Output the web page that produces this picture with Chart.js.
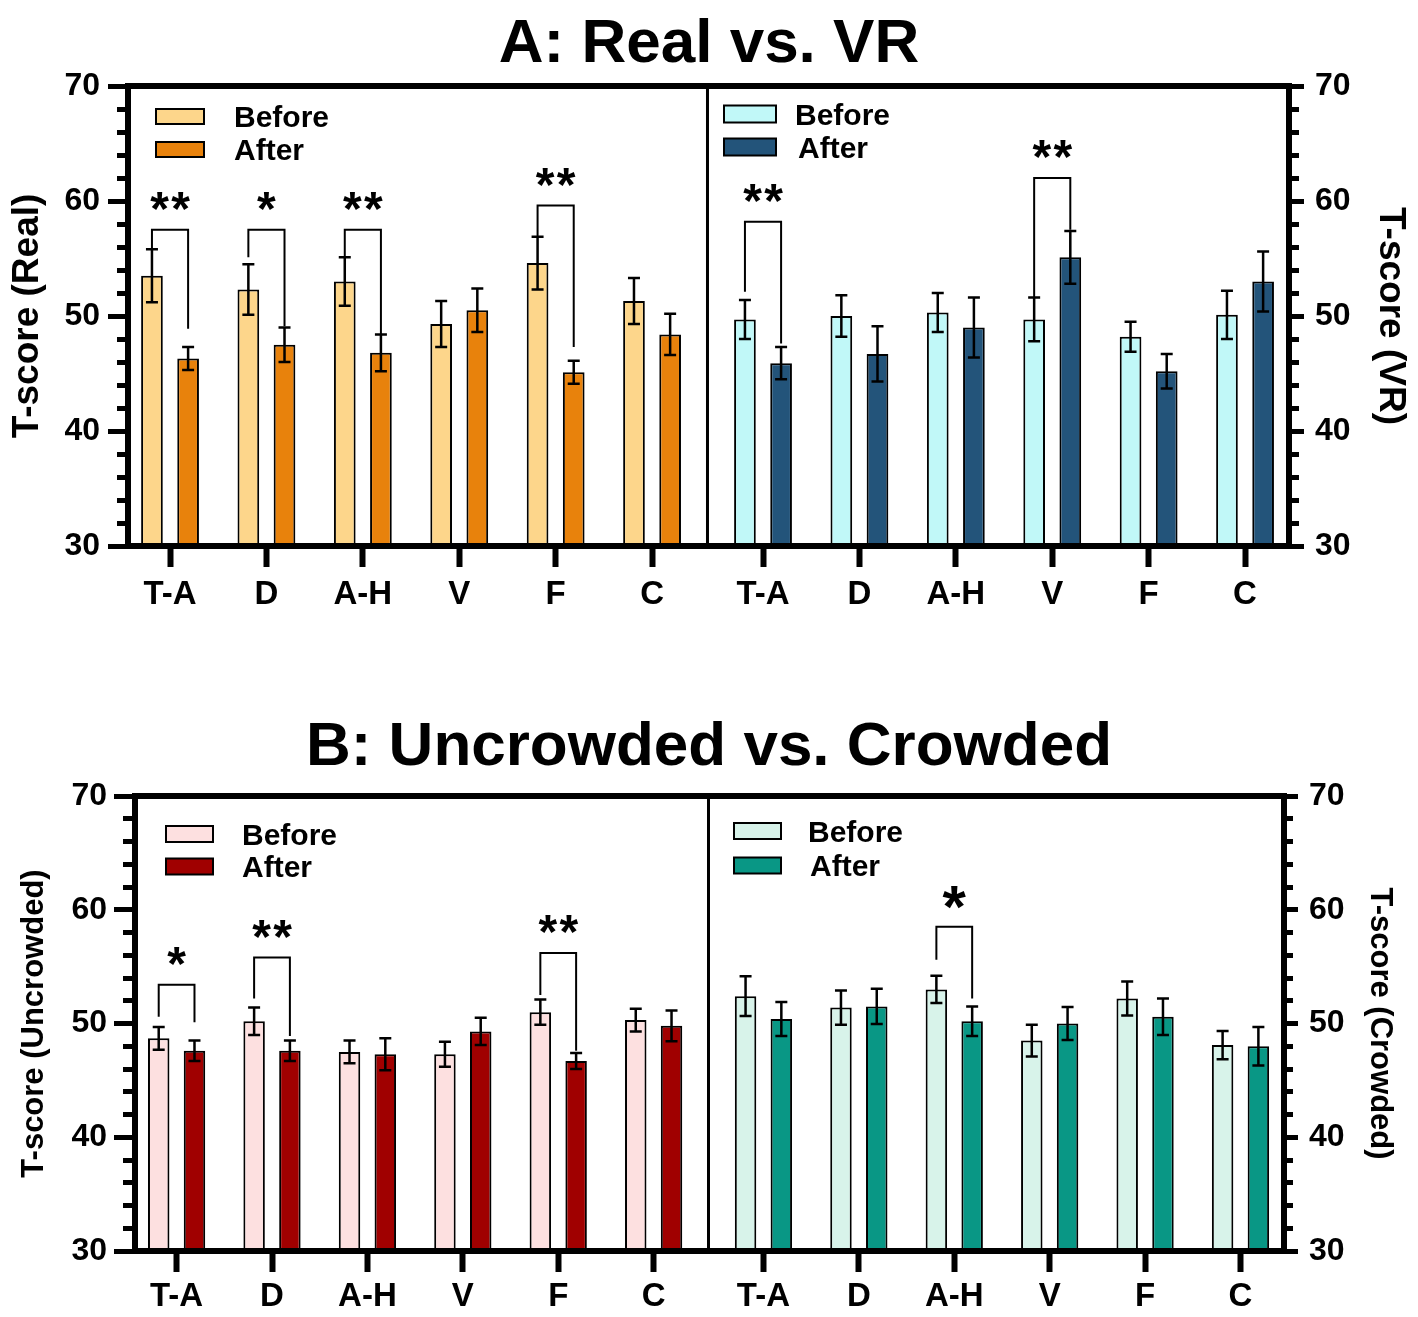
<!DOCTYPE html>
<html>
<head>
<meta charset="utf-8">
<script src="https://cdn.jsdelivr.net/npm/chart.js@4.4.1/dist/chart.umd.min.js"></script>
<style>
  html, body { margin: 0; padding: 0; background: #fff; }
  canvas { display: block; }
</style>
</head>
<body>
<canvas id="panelA" width="1418" height="650"></canvas>
<canvas id="panelB" width="1418" height="667"></canvas>
<script>
// Subscales, same order in both halves of each panel
const categories = ['T-A', 'D', 'A-H', 'V', 'F', 'C'];
const seriesLabels = ['Before', 'After'];

// Panel A: Real (left half) vs. VR (right half), mean T-score and error
const realBefore    = [53.5, 52.3, 53.0, 49.3, 54.6, 51.3];
const realBeforeErr = [2.3, 2.2, 2.1, 2.0, 2.3, 2.0];
const realAfter     = [46.3, 47.5, 46.8, 50.5, 45.1, 48.4];
const realAfterErr  = [1.0, 1.5, 1.6, 1.9, 1.0, 1.8];
const vrBefore      = [49.7, 50.0, 50.3, 49.7, 48.2, 50.1];
const vrBeforeErr   = [1.7, 1.8, 1.7, 1.9, 1.3, 2.1];
const vrAfter       = [45.9, 46.7, 49.0, 55.1, 45.2, 53.0];
const vrAfterErr    = [1.4, 2.4, 2.6, 2.3, 1.5, 2.6];

// Panel B: Uncrowded (left half) vs. Crowded (right half)
const uncBefore    = [48.7, 50.2, 47.5, 47.3, 51.0, 50.3];
const uncBeforeErr = [1.0, 1.2, 1.0, 1.1, 1.1, 1.0];
const uncAfter     = [47.6, 47.6, 47.3, 49.3, 46.7, 49.8];
const uncAfterErr  = [0.9, 0.9, 1.4, 1.2, 0.7, 1.35];
const crBefore     = [52.4, 51.4, 53.0, 48.5, 52.2, 48.1];
const crBeforeErr  = [1.75, 1.5, 1.2, 1.4, 1.5, 1.25];
const crAfter      = [50.4, 51.5, 50.2, 50.0, 50.6, 48.0];
const crAfterErr   = [1.5, 1.55, 1.3, 1.45, 1.6, 1.7];

// Significance brackets: [group 0-11, bracket top, left leg end, right leg end, stars]
const sigA = [
  [0, 57.5, 55.9, 48.9, '**'],
  [1, 57.5, 55.1, 49.1, '*'],
  [2, 57.5, 55.1, 48.4, '**'],
  [4, 59.6, 56.9, 47.3, '**'],
  [6, 58.2, 52.1, 47.6, '**'],
  [9, 62.0, 51.6, 57.5, '**']
];
const sigB = [
  [0, 53.4, 50.6, 50.1, '*'],
  [1, 55.8, 52.2, 48.9, '**'],
  [4, 56.2, 52.5, 47.6, '**'],
  [8, 58.5, 55.6, 52.2, '*']
];

// Layout of the category axis (in category units)
const HALF_GAP = 0.151;
const X_MIN = -0.436, X_MAX = 11.607, DIVIDER = 5.575;
const FONT = "'Liberation Sans', Arial, sans-serif";

function makePanel(canvasId, p) {
  const canvas = document.getElementById(canvasId);
  const W = canvas.width, H = canvas.height;
  const xs = categories.map((c, i) => i).concat(categories.map((c, i) => i + 6 + HALF_GAP));
  const points = vals => vals.map((v, i) => ({ x: xs[i], y: v }));
  const halves = (l, r) => xs.map((x, i) => (i < 6 ? l : r));

  const decor = {
    id: 'decor',
    afterDatasetsDraw(chart) {
      // error bars
      const ctx = chart.ctx, y = chart.scales.y;
      ctx.save();
      ctx.strokeStyle = '#000';
      ctx.lineWidth = 2.5;
      chart.data.datasets.forEach((ds, di) => {
        chart.getDatasetMeta(di).data.forEach((bar, i) => {
          const v = ds.data[i].y, e = ds.errors[i];
          const hi = y.getPixelForValue(v + e), lo = y.getPixelForValue(v - e);
          ctx.beginPath();
          ctx.moveTo(bar.x, hi); ctx.lineTo(bar.x, lo);
          ctx.moveTo(bar.x - 6, hi); ctx.lineTo(bar.x + 6, hi);
          ctx.moveTo(bar.x - 6, lo); ctx.lineTo(bar.x + 6, lo);
          ctx.stroke();
        });
      });
      ctx.restore();
    },
    afterDraw(chart) {
      const ctx = chart.ctx, area = chart.chartArea;
      const xS = chart.scales.x, yS = chart.scales.y;
      ctx.save();
      ctx.strokeStyle = '#000';
      ctx.fillStyle = '#000';

      // top frame line and middle divider
      ctx.lineWidth = 6;
      ctx.beginPath();
      ctx.moveTo(area.left - 3, area.top);
      ctx.lineTo(area.right + 3, area.top);
      ctx.stroke();
      const dx = xS.getPixelForValue(DIVIDER);
      ctx.lineWidth = 3;
      ctx.beginPath();
      ctx.moveTo(dx, area.top);
      ctx.lineTo(dx, area.bottom);
      ctx.stroke();

      // panel title
      ctx.font = `bold 62px ${FONT}`;
      ctx.textAlign = 'center';
      ctx.textBaseline = 'alphabetic';
      ctx.fillText(p.title, W / 2, p.titleY);

      // legends inside each half
      ctx.font = `bold 30px ${FONT}`;
      ctx.textAlign = 'left';
      p.legends.forEach(lg => {
        seriesLabels.forEach((label, k) => {
          const cy = lg.rows[k];
          ctx.fillStyle = lg.colors[k];
          ctx.fillRect(lg.x, cy - lg.h / 2, lg.w, lg.h);
          ctx.lineWidth = 2;
          ctx.strokeRect(lg.x, cy - lg.h / 2, lg.w, lg.h);
          ctx.fillStyle = '#000';
          ctx.fillText(label, lg.textX[k], cy + 10.7);
        });
      });

      // significance brackets
      const m0 = chart.getDatasetMeta(0).data, m1 = chart.getDatasetMeta(1).data;
      p.sig.forEach(([g, top, endL, endR, stars], n) => {
        const xl = m0[g].x, xr = m1[g].x;
        const ty = yS.getPixelForValue(top);
        ctx.lineWidth = 2;
        ctx.beginPath();
        ctx.moveTo(xl, yS.getPixelForValue(endL));
        ctx.lineTo(xl, ty);
        ctx.lineTo(xr, ty);
        ctx.lineTo(xr, yS.getPixelForValue(endR));
        ctx.stroke();
        const size = p.starSize[n];
        ctx.font = `bold ${size}px ${FONT}`;
        ctx.textAlign = 'center';
        const mt = ctx.measureText('*');
        const base = ty - 29 + (mt.actualBoundingBoxAscent - mt.actualBoundingBoxDescent) / 2;
        const cx = (xl + xr) / 2;
        for (let k = 0; k < stars.length; k++) {
          ctx.fillText('*', cx + (k - (stars.length - 1) / 2) * 21, base);
        }
      });
      ctx.restore();
    }
  };

  const yAxis = (side, a) => ({
    position: side,
    min: 30, max: 70,
    weight: 1,
    afterFit: s => { s.width = side === 'left' ? p.area.left : W - p.area.right; },
    ticks: { stepSize: 10, color: '#000', padding: a.pad, font: { family: FONT, size: 32, weight: 'bold' } },
    grid: { drawOnChartArea: false, tickLength: a.major, tickWidth: 5, tickColor: '#000' },
    border: { width: 6, color: '#000' },
    title: {
      display: true, text: a.title, color: '#000',
      font: { family: FONT, size: p.titleSize, weight: 'bold' },
      padding: { top: a.titlePad, bottom: 0 }
    }
  });
  const minorAxis = (side, len) => ({
    position: side,
    min: 30, max: 70,
    weight: 0,
    afterFit: s => { s.width = 0; },
    ticks: { stepSize: 2, display: false },
    grid: { drawOnChartArea: false, tickLength: len, tickWidth: 5, tickColor: '#000' },
    border: { display: false }
  });

  new Chart(canvas, {
    type: 'bar',
    data: {
      datasets: [
        {
          label: seriesLabels[0],
          data: points(p.before),
          errors: p.beforeErr,
          backgroundColor: halves(p.colors[0], p.colors[2]),
          borderColor: '#000', borderWidth: 2,
          categoryPercentage: 0.75, barPercentage: 0.6
        },
        {
          label: seriesLabels[1],
          data: points(p.after),
          errors: p.afterErr,
          backgroundColor: halves(p.colors[1], p.colors[3]),
          borderColor: '#000', borderWidth: 2,
          categoryPercentage: 0.75, barPercentage: 0.6
        }
      ]
    },
    options: {
      responsive: false,
      animation: false,
      layout: { padding: { top: p.area.top, left: 0, right: 0, bottom: 0 } },
      plugins: { legend: { display: false }, tooltip: { enabled: false } },
      scales: {
        x: {
          type: 'linear', position: 'bottom',
          min: X_MIN, max: X_MAX,
          offset: false,
          afterBuildTicks: s => { s.ticks = xs.map(v => ({ value: v })); },
          afterFit: s => { s.height = H - p.area.bottom; },
          ticks: {
            autoSkip: false, maxRotation: 0, color: '#000', padding: p.xPad,
            font: { family: FONT, size: 33, weight: 'bold' },
            callback: (v, i) => categories[i % 6]
          },
          grid: { offset: false, drawOnChartArea: false, tickLength: 21, tickWidth: 6, tickColor: '#000' },
          border: { width: 6, color: '#000', z: 1 }
        },
        y: yAxis('left', p.left),
        yMinor: minorAxis('left', p.left.minor),
        y2: yAxis('right', p.right),
        y2Minor: minorAxis('right', p.right.minor)
      }
    },
    plugins: [decor]
  });
}

makePanel('panelA', {
  title: 'A: Real vs. VR', titleY: 62, titleSize: 37,
  area: { left: 128, right: 1289, top: 86, bottom: 546 },
  xPad: 8,
  left:  { title: 'T-score (Real)', titlePad: 6, pad: 8, major: 20, minor: 11 },
  right: { title: 'T-score (VR)', titlePad: 6, pad: 11, major: 15, minor: 10 },
  before: realBefore.concat(vrBefore), beforeErr: realBeforeErr.concat(vrBeforeErr),
  after: realAfter.concat(vrAfter), afterErr: realAfterErr.concat(vrAfterErr),
  colors: ['#FDD68B', '#E8820C', '#C1F8F8', '#23547A'],
  legends: [
    { x: 156, w: 48, h: 15, rows: [116.5, 149.5], textX: [234, 234], colors: ['#FDD68B', '#E8820C'] },
    { x: 724, w: 52, h: 17, rows: [114, 147], textX: [795, 798], colors: ['#C1F8F8', '#23547A'] }
  ],
  sig: sigA, starSize: [48, 48, 48, 48, 48, 48]
});

makePanel('panelB', {
  title: 'B: Uncrowded vs. Crowded', titleY: 115, titleSize: 31,
  area: { left: 135, right: 1284, top: 146, bottom: 601 },
  xPad: 5,
  left:  { title: 'T-score (Uncrowded)', titlePad: 16, pad: 7, major: 21, minor: 12 },
  right: { title: 'T-score (Crowded)', titlePad: 20, pad: 11, major: 14, minor: 9 },
  before: uncBefore.concat(crBefore), beforeErr: uncBeforeErr.concat(crBeforeErr),
  after: uncAfter.concat(crAfter), afterErr: uncAfterErr.concat(crAfterErr),
  colors: ['#FDE0E0', '#A00000', '#D8F3EA', '#099785'],
  legends: [
    { x: 166, w: 47, h: 16, rows: [184, 216.5], textX: [242, 242], colors: ['#FDE0E0', '#A00000'] },
    { x: 734, w: 47, h: 16, rows: [181, 215.5], textX: [808, 810], colors: ['#D8F3EA', '#099785'] }
  ],
  sig: sigB, starSize: [48, 48, 48, 60]
});
</script>
</body>
</html>
